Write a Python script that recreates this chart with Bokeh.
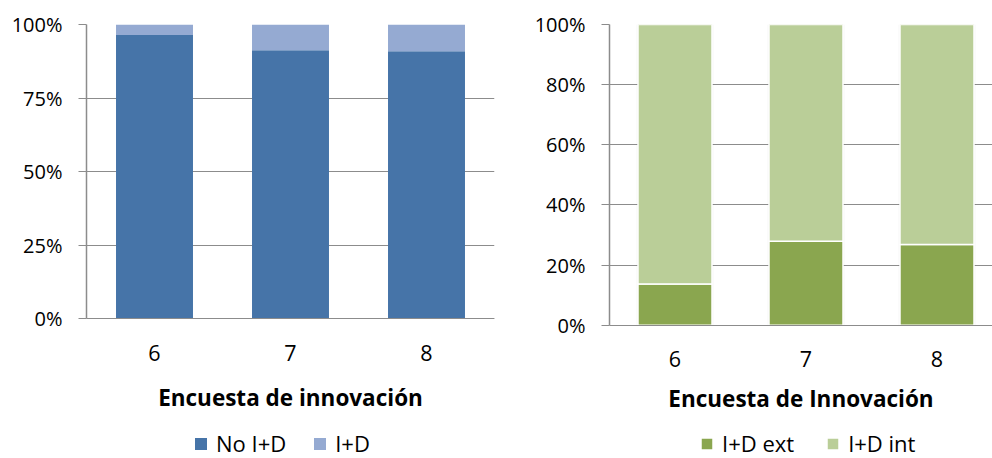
from bokeh.plotting import figure
from bokeh.layouts import row
from bokeh.models import (Range1d, FixedTicker, NumeralTickFormatter, Legend,
                          LegendItem, ColumnDataSource)
from bokeh.embed import file_html
from bokeh.resources import INLINE

# Survey waves (Encuesta de innovación)
encuestas = ["6", "7", "8"]

# Left panel: share of firms without / with R&D (I+D)
no_id = [0.964, 0.912, 0.909]
si_id = [0.036, 0.088, 0.091]

# Right panel: external vs internal R&D among R&D firms
id_ext = [0.137, 0.279, 0.268]
id_int = [0.863, 0.721, 0.732]

left_ticks = [0, 0.25, 0.5, 0.75, 1.0]
right_ticks = [0, 0.2, 0.4, 0.6, 0.8, 1.0]

FONT = "Open Sans"
GRID = "#8c8c8c"
TXT = "#000000"
H = 458
TOP = 24

xpos = [i + 0.5 for i in range(len(encuestas))]
labels = {x: e for x, e in zip(xpos, encuestas)}


def style(p, ticks, title_standoff):
    p.outline_line_color = None
    p.xgrid.grid_line_color = None
    p.ygrid.grid_line_color = GRID
    p.ygrid.grid_line_width = 1
    p.ygrid.ticker = FixedTicker(ticks=ticks)
    p.yaxis.ticker = FixedTicker(ticks=ticks)
    p.yaxis.bounds = (0, 1)
    p.yaxis.formatter = NumeralTickFormatter(format="0%")
    p.yaxis.minor_tick_line_color = None
    p.yaxis.major_tick_in = 0
    p.yaxis.major_tick_out = 8
    p.yaxis.major_tick_line_color = GRID
    p.yaxis.axis_line_color = GRID
    p.yaxis.axis_line_width = 1.5
    p.yaxis.major_label_standoff = 16
    p.yaxis.major_label_text_font_size = "20px"
    # category axis sits on the 0% line; space below it holds title and legend
    p.xaxis.fixed_location = 0
    p.xaxis.ticker = FixedTicker(ticks=xpos)
    p.xaxis.major_label_overrides = labels
    p.xaxis.major_tick_line_color = None
    p.xaxis.minor_tick_line_color = None
    p.xaxis.axis_line_color = GRID
    p.xaxis.major_label_standoff = 20
    p.xaxis.major_label_text_font_size = "21.5px"
    p.xaxis.axis_label_standoff = title_standoff
    for ax in (p.xaxis, p.yaxis):
        ax.major_label_text_font = FONT
        ax.major_label_text_color = TXT
    p.xaxis.axis_label_text_font = FONT
    p.xaxis.axis_label_text_font_size = "22.5px"
    p.xaxis.axis_label_text_font_style = "bold"
    p.xaxis.axis_label_text_color = TXT


def add_legend(p, items, x, y, spacing):
    leg = Legend(items=items, location=(x, y), orientation="horizontal",
                 border_line_color=None, background_fill_alpha=0,
                 padding=0, margin=0, spacing=spacing, label_standoff=8,
                 glyph_width=15, glyph_height=15,
                 label_text_font=FONT, label_text_font_size="22px",
                 label_text_color=TXT)
    p.add_layout(leg, "center")


# ---- left: No I+D / I+D ----  (294 px per 100%)
src_l = ColumnDataSource(dict(x=xpos, no_id=no_id, si_id=si_id))
p1 = figure(width=500, height=H,
            min_border_left=86, min_border_right=6, min_border_top=TOP,
            min_border_bottom=0,
            x_range=Range1d(0, 3), y_range=Range1d(1 - (H - TOP) / 294, 1),
            output_backend="svg", toolbar_location=None)
r1 = p1.vbar_stack(["no_id", "si_id"], x="x", width=0.566, source=src_l,
                   color=["#4674A8", "#95AAD2"], line_color=None)
style(p1, left_ticks, 18)
p1.xaxis.axis_label = "Encuesta de innovación"
add_legend(p1, [LegendItem(label="No I+D", renderers=[r1[0]]),
                LegendItem(label="I+D", renderers=[r1[1]])], 107, 0, 26)

# ---- right: I+D ext / I+D int ----  (300.7 px per 100%)
src_r = ColumnDataSource(dict(x=xpos, id_ext=id_ext, id_int=id_int))
p2 = figure(width=492, height=H,
            min_border_left=109, min_border_right=0, min_border_top=TOP,
            min_border_bottom=0,
            x_range=Range1d(0, 383 / 131),
            y_range=Range1d(1 - (H - TOP) / 300.7, 1),
            output_backend="svg", toolbar_location=None)
# soft shadow behind the bars
p2.vbar_stack(["id_ext", "id_int"], x="x", width=0.585, source=src_r,
              color=["#000000", "#000000"], fill_alpha=0.05, line_color=None)
r2 = p2.vbar_stack(["id_ext", "id_int"], x="x", width=0.565, source=src_r,
                   color=["#8AA64F", "#BACE98"], line_color="white",
                   line_width=1.5)
style(p2, right_ticks, 12)
p2.xaxis.axis_label = "Encuesta de Innovación"
add_legend(p2, [LegendItem(label="I+D ext", renderers=[r2[0]]),
                LegendItem(label="I+D int", renderers=[r2[1]])], 90, 0, 31)

layout = row(p1, p2)
open("out.html", "w").write(file_html(layout, INLINE))
